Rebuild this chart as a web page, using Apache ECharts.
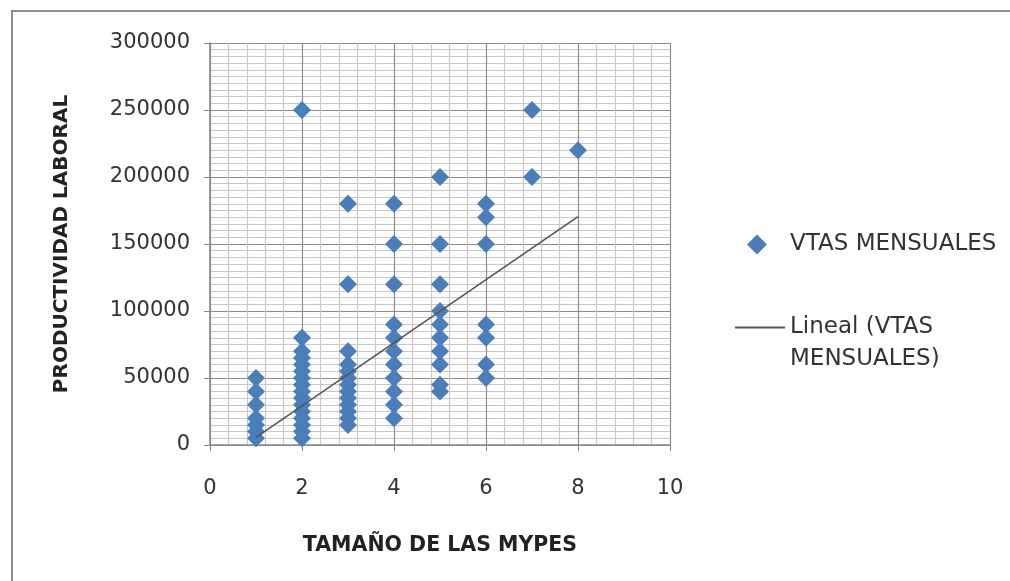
<!DOCTYPE html>
<html>
<head>
<meta charset="utf-8">
<script src="https://cdn.jsdelivr.net/npm/echarts@6/dist/echarts.min.js"></script>
<style>
  html, body { margin: 0; padding: 0; background: #fff; }
  #chart { width: 1010px; height: 581px; }
</style>
</head>
<body>
<div id="chart"></div>
<script>
// tamaño de las mypes (eje x) y ventas
const tamanos = [1, 2, 3, 4, 5, 6, 7, 8];
const ventas1 = [50000, 40000, 30000, 20000, 15000, 10000, 5000];
const ventas2 = [250000, 80000, 70000, 65000, 60000, 55000, 50000, 45000, 40000, 35000, 30000, 25000, 20000, 15000, 10000, 5000];
const ventas3 = [180000, 120000, 70000, 60000, 55000, 50000, 45000, 40000, 35000, 30000, 25000, 20000, 15000];
const ventas4 = [180000, 150000, 120000, 90000, 80000, 70000, 60000, 50000, 40000, 30000, 20000];
const ventas5 = [200000, 150000, 120000, 100000, 90000, 80000, 70000, 60000, 45000, 40000];
const ventas6 = [180000, 170000, 150000, 90000, 80000, 60000, 50000];
const ventas7 = [250000, 200000];
const ventas8 = [220000];
// extremos de la línea de tendencia (leídos)
const tendenciaX = [1, 8];
const tendenciaY = [5700, 170400];

const xTicks = [0, 2, 4, 6, 8, 10];
const yTicks = [0, 50000, 100000, 150000, 200000, 250000, 300000];

const porTamano = [ventas1, ventas2, ventas3, ventas4, ventas5, ventas6, ventas7, ventas8];
const puntos = [];
tamanos.forEach((t, i) => porTamano[i].forEach(v => puntos.push([t, v])));
const tendencia = tendenciaX.map((x, i) => [x, tendenciaY[i]]);

const SERIE = "VTAS MENSUALES";
const TREND = "Lineal (VTAS MENSUALES)";
const font = "DejaVu Sans";
const txt = "#333";

const chart = echarts.init(document.getElementById("chart"), null, { renderer: "canvas" });
chart.setOption({
  animation: false,
  backgroundColor: "#fff",
  graphic: [{
    type: "rect",
    shape: { x: 12, y: 11, width: 1200, height: 800 },
    style: { fill: "none", stroke: "#8e8e8e", lineWidth: 2 },
    silent: true
  }],
  grid: { left: 210, right: 340, top: 43, bottom: 136 },
  legend: [{
    data: [SERIE],
    icon: "diamond",
    itemWidth: 20, itemHeight: 20,
    left: 742, top: 228,
    formatter: n => "{t|" + n + "}",
    textStyle: { fontFamily: font, fontSize: 23, color: txt,
      rich: { t: { fontFamily: font, fontSize: 23, color: txt, lineHeight: 32, padding: [0, 0, 0, 18] } } }
  }, {
    data: [TREND],
    icon: "rect",
    itemWidth: 50, itemHeight: 2,
    left: 730, top: 279,
    formatter: () => "{t| }\n{t|Lineal (VTAS}\n{t|MENSUALES)}",
    textStyle: { fontFamily: font, fontSize: 23, color: txt,
      rich: { t: { fontFamily: font, fontSize: 23, color: txt, lineHeight: 32, padding: [0, 0, 0, 0] } } }
  }],
  xAxis: {
    type: "value",
    min: 0, max: 10, interval: 2,
    name: "TAMAÑO DE LAS MYPES",
    nameLocation: "middle", nameGap: 90,
    nameTextStyle: { fontFamily: font, fontSize: 20.5, fontWeight: "bold", color: "#222" },
    axisLine: { show: true, lineStyle: { color: "#888", width: 1.5 } },
    axisTick: { show: true, length: 6, lineStyle: { color: "#888" } },
    axisLabel: { margin: 33, fontFamily: font, fontSize: 21, color: txt,
      formatter: v => xTicks.includes(v) ? String(v) : "" },
    splitLine: { show: true, lineStyle: { color: "#8c8c8c", width: 1.2 } },
    minorTick: { show: false, splitNumber: 5 },
    minorSplitLine: { show: true, lineStyle: { color: "#c8c8c8", width: 1.2 } }
  },
  yAxis: {
    type: "value",
    min: 0, max: 300000, interval: 50000,
    name: "PRODUCTIVIDAD LABORAL",
    nameLocation: "middle", nameGap: 138,
    nameTextStyle: { fontFamily: font, fontSize: 20, fontWeight: "bold", color: "#222" },
    axisLine: { show: true, lineStyle: { color: "#888", width: 1.5 } },
    axisTick: { show: true, length: 6, lineStyle: { color: "#888" } },
    axisLabel: { margin: 20, fontFamily: font, fontSize: 21, color: txt,
      formatter: v => yTicks.includes(v) ? String(v) : "" },
    splitLine: { show: true, lineStyle: { color: "#8c8c8c", width: 1.2 } },
    minorTick: { show: false, splitNumber: 10 },
    minorSplitLine: { show: true, lineStyle: { color: "#c8c8c8", width: 1.2 } }
  },
  series: [{
    name: SERIE,
    type: "scatter",
    symbol: "diamond",
    symbolSize: [18, 18],
    itemStyle: { color: "#4a7ebb", opacity: 1 },
    data: puntos,
    z: 3
  }, {
    name: TREND,
    type: "line",
    data: tendencia,
    symbol: "none",
    lineStyle: { color: "#555", width: 1.6 },
    itemStyle: { color: "#555" },
    z: 4
  }]
});
</script>
</body>
</html>
